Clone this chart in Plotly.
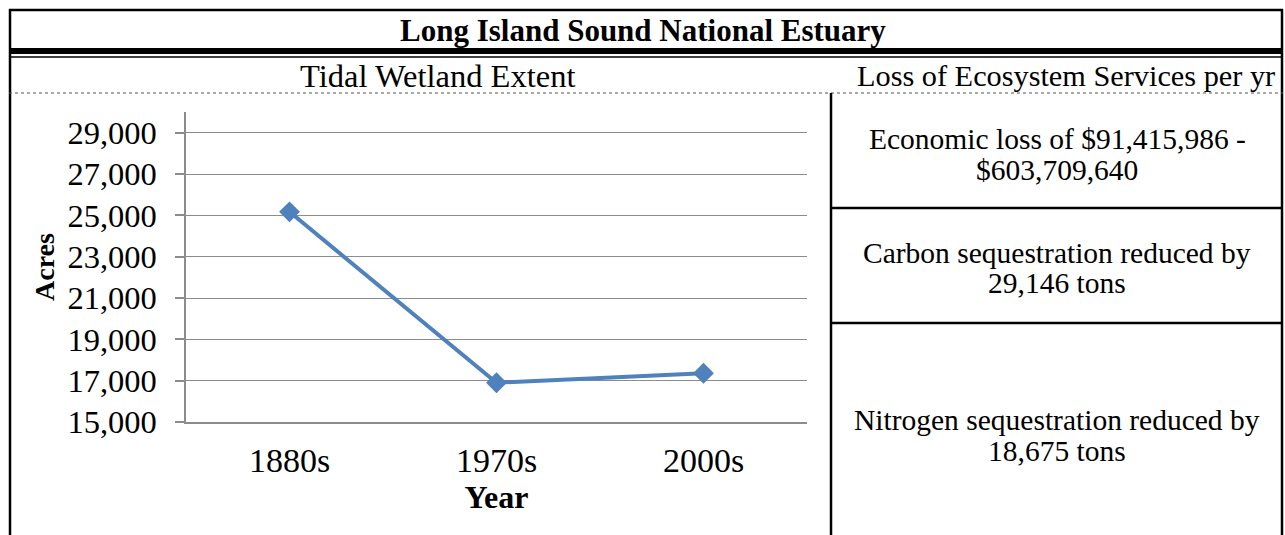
import plotly.graph_objects as go

W, H = 1285, 535          # reference picture size
FIG_H = 553               # page height as captured by the renderer

# ---- data ----
years = ["1880s", "1970s", "2000s"]
acres = [25170, 16900, 17360]
ytick_vals = [15000, 17000, 19000, 21000, 23000, 25000, 27000, 29000]
ytick_text = ["15,000", "17,000", "19,000", "21,000", "23,000", "25,000", "27,000", "29,000"]
title_text = "Long Island Sound National Estuary"
left_header = "Tidal Wetland Extent"
right_header = "Loss of Ecosystem Services per yr"
loss_items = [
    ["Economic loss of $91,415,986 -", "$603,709,640"],
    ["Carbon sequestration reduced by", "29,146 tons"],
    ["Nitrogen sequestration reduced by", "18,675 tons"],
]

SERIF = "Liberation Serif, Times New Roman, serif"
BLUE = "#4F81BD"
GRID = "#8C8C8C"


def px(x):
    return x / W


def py(y):
    return 1 - y / H


fig = go.Figure()
fig.add_trace(go.Scatter(
    x=years, y=acres, mode="lines+markers",
    line=dict(color=BLUE, width=4),
    marker=dict(symbol="diamond", size=16, color=BLUE),
    showlegend=False, hoverinfo="x+y",
))

shapes = []


def hline(y, x0, x1, w=2.0, color="black", dash="solid"):
    shapes.append(dict(type="line", xref="paper", yref="paper",
                       x0=px(x0), x1=px(x1), y0=py(y), y1=py(y),
                       line=dict(color=color, width=w, dash=dash)))


def vline(x, y0, y1, w=2.0, color="black"):
    shapes.append(dict(type="line", xref="paper", yref="paper",
                       x0=px(x), x1=px(x), y0=py(y0), y1=py(y1),
                       line=dict(color=color, width=w)))


# outer frame
hline(10, 9, 1283, 2.5)
vline(10, 9, 535, 2.5)
vline(1282, 9, 535, 2.5)
# thick bar under title
shapes.append(dict(type="rect", xref="paper", yref="paper",
                   x0=px(9), x1=px(1283), y0=py(54), y1=py(48),
                   fillcolor="black", line=dict(width=0)))
hline(57, 9, 1283, 1.5)
# dotted separator under sub headers
hline(93, 9, 1283, 1.2, color="#555555", dash="dot")
# vertical divider and right cells
vline(831, 93, 535, 2.5)
hline(208, 831, 1283, 2.5)
hline(323, 831, 1283, 2.5)


def label(text, x, y, size, bold=False):
    return dict(text=("<b>" + text + "</b>") if bold else text,
                x=px(x), y=py(y), xref="paper", yref="paper",
                showarrow=False, font=dict(family=SERIF, size=size, color="black"),
                xanchor="center", yanchor="middle")


annotations = [
    label(title_text, 643, 30, 31, bold=True),
    label(left_header, 437, 76, 32.5),
    label(right_header, 1066, 76, 30.3),
]
cell_lines_y = [(139, 170), (253, 283), (420, 451)]
for lines, ys in zip(loss_items, cell_lines_y):
    for t, yc in zip(lines, ys):
        annotations.append(label(t, 1057, yc, 29.5))

fig.update_layout(
    width=W, height=FIG_H,
    margin=dict(l=0, r=0, t=0, b=0),
    paper_bgcolor="white", plot_bgcolor="white",
    shapes=shapes, annotations=annotations,
    xaxis=dict(
        domain=[px(186), px(807)], type="category", range=[-0.5, 2.5],
        showline=True, linecolor=GRID, linewidth=1.5, showgrid=False,
        ticks="", tickfont=dict(family=SERIF, size=34, color="black"),
        ticklabelstandoff=7,
        title=dict(text="<b>Year</b>", font=dict(family=SERIF, size=32, color="black"), standoff=7),
        zeroline=False, fixedrange=True,
    ),
    yaxis=dict(
        domain=[py(422), py(112)], range=[15000, 30000],
        tickvals=ytick_vals, ticktext=ytick_text,
        showline=True, linecolor=GRID, linewidth=1.5,
        showgrid=True, gridcolor=GRID, gridwidth=1.3,
        ticks="outside", ticklen=9, tickcolor=GRID, tickwidth=1.5,
        tickfont=dict(family=SERIF, size=32.5, color="black"),
        ticklabelstandoff=12,
        title=dict(text="<b>Acres</b>", font=dict(family=SERIF, size=28, color="black"), standoff=5),
        zeroline=False, fixedrange=True,
    ),
)

post = ("var gd=document.getElementById('{plot_id}');"
        "document.documentElement.style.margin='0';"
        "document.body.style.margin='0';"
        "document.body.style.overflow='hidden';"
        "gd.style.position='absolute';gd.style.left='0px';gd.style.top='0px';")
fig.write_html("out.html", post_script=post, config={"displayModeBar": False})
